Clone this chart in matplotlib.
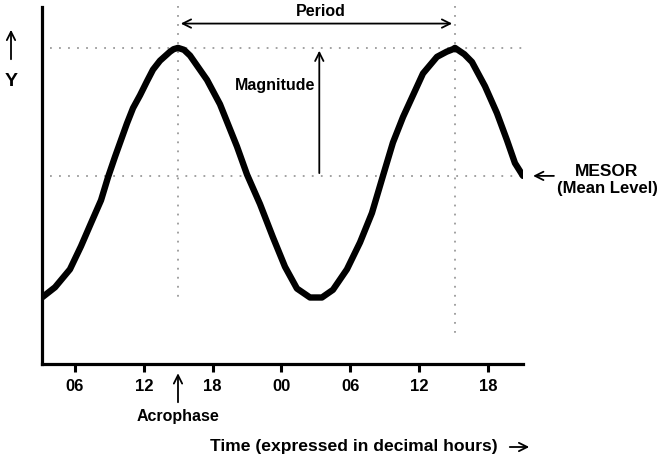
import numpy as np
import matplotlib.pyplot as plt
from matplotlib.patches import FancyArrowPatch

# curve: time in hours (continuous), level relative to MESOR (peak = 1)
hours = [3.12, 4.26, 5.56, 6.52, 7.39, 8.27, 8.88, 9.49, 10.53, 11.06,
         11.67, 12.28, 12.80, 13.41, 14.28, 14.60, 14.98, 15.50, 16.03, 17.51,
         18.64, 20.12, 21.00, 22.13, 23.26, 24.31, 25.35, 26.49, 27.53, 28.49,
         29.71, 30.85, 31.89, 32.42, 32.85, 33.72, 34.60, 35.47, 36.34, 37.56,
         38.40, 38.96, 39.13, 39.95, 40.61, 41.75, 42.79, 43.66, 44.36, 45.06]
level = [-0.95, -0.87, -0.73, -0.55, -0.37, -0.19, -0.01, 0.15, 0.41, 0.53,
         0.63, 0.74, 0.83, 0.90, 0.97, 0.99, 1.00, 0.985, 0.94, 0.75,
         0.56, 0.23, 0.01, -0.22, -0.48, -0.71, -0.88, -0.95, -0.95, -0.89,
         -0.73, -0.52, -0.29, -0.13, 0.00, 0.26, 0.46, 0.63, 0.80, 0.93,
         0.97, 0.99, 1.00, 0.95, 0.89, 0.70, 0.49, 0.28, 0.10, 0.00]

tick_hours = [6, 12, 18, 24, 30, 36, 42]
tick_labels = ['06', '12', '18', '00', '06', '12', '18']

acrophase = 14.98
second_peak = 39.13
mesor = 0.0
peak = 1.0

plt.rcParams['font.family'] = ['Liberation Sans', 'DejaVu Sans']
plt.rcParams['font.weight'] = 'bold'

fig = plt.figure(figsize=(6.61, 4.62), dpi=100)
ax = fig.add_axes([0.0635, 0.212, 0.7277, 0.773])

ax.plot(hours, level, color='black', lw=4.6, solid_capstyle='round',
        solid_joinstyle='round', zorder=3)

# dotted guide lines
dot = dict(color='#9a9a9a', lw=1.3, ls=(0, (1, 4)), clip_on=False, zorder=1)
ax.plot([3.8, 45.2], [peak, peak], **dot)
ax.plot([3.8, 45.0], [mesor, mesor], **dot)
ax.plot([acrophase, acrophase], [1.33, -0.97], **dot)
ax.plot([second_peak, second_peak], [1.33, -1.28], **dot)

ax.set_xlim(3.12, 45.06)
ax.set_ylim(-1.47, 1.32)
ax.set_xticks(tick_hours)
ax.set_xticklabels(tick_labels, fontsize=12, fontweight='bold')
ax.set_yticks([])
ax.tick_params(axis='x', direction='out', length=6, width=2.2, pad=5)
for s in ['top', 'right']:
    ax.spines[s].set_visible(False)
for s in ['left', 'bottom']:
    ax.spines[s].set_linewidth(2.3)

arr = dict(arrowstyle='->', color='black', lw=1.3, mutation_scale=15)

# period
ax.annotate('', xy=(acrophase, 1.19), xytext=(second_peak, 1.19),
            arrowprops=dict(arrowstyle='<->', color='black', lw=1.3, mutation_scale=15),
            annotation_clip=False)
ax.text((acrophase + second_peak) / 2 + 0.4, 1.285, 'Period', ha='center', va='center',
        fontsize=11.5, fontweight='bold')

# magnitude
ax.annotate('', xy=(27.3, peak), xytext=(27.3, mesor), arrowprops=arr)
ax.text(23.4, 0.71, 'Magnitude', ha='center', va='center', fontsize=11.5, fontweight='bold')

# acrophase
ax.annotate('', xy=(acrophase, -1.52), xytext=(acrophase, -1.79), arrowprops=arr,
            annotation_clip=False)
ax.text(acrophase, -1.88, 'Acrophase', ha='center', va='center', fontsize=11.5,
        fontweight='bold', clip_on=False)

# MESOR
ax.annotate('', xy=(45.7, mesor), xytext=(48.0, mesor), arrowprops=arr,
            annotation_clip=False)
fig.text(607 / 661, 1 - 171 / 462, 'MESOR', ha='center', va='center', fontsize=12.5,
         fontweight='bold')
fig.text(607 / 661, 1 - 188 / 462, '(Mean Level)', ha='center', va='center', fontsize=12,
         fontweight='bold')

# Y label with arrow
fig.text(11 / 661, 1 - 81 / 462, 'Y', ha='center', va='center', fontsize=14, fontweight='bold')
fig.add_artist(FancyArrowPatch(
    (11 / 661, 1 - 62 / 462), (11 / 661, 1 - 27 / 462), transform=fig.transFigure,
    arrowstyle='->', color='black', lw=1.3, mutation_scale=15))

# x axis label with arrow
fig.text(210 / 661, 1 - 446 / 462, 'Time (expressed in decimal hours)', ha='left',
         va='center', fontsize=12.6, fontweight='bold')
fig.add_artist(FancyArrowPatch(
    (507 / 661, 1 - 447 / 462), (532 / 661, 1 - 447 / 462), transform=fig.transFigure,
    arrowstyle='->', color='black', lw=1.3, mutation_scale=15))

fig.savefig('out.png', dpi=100)
